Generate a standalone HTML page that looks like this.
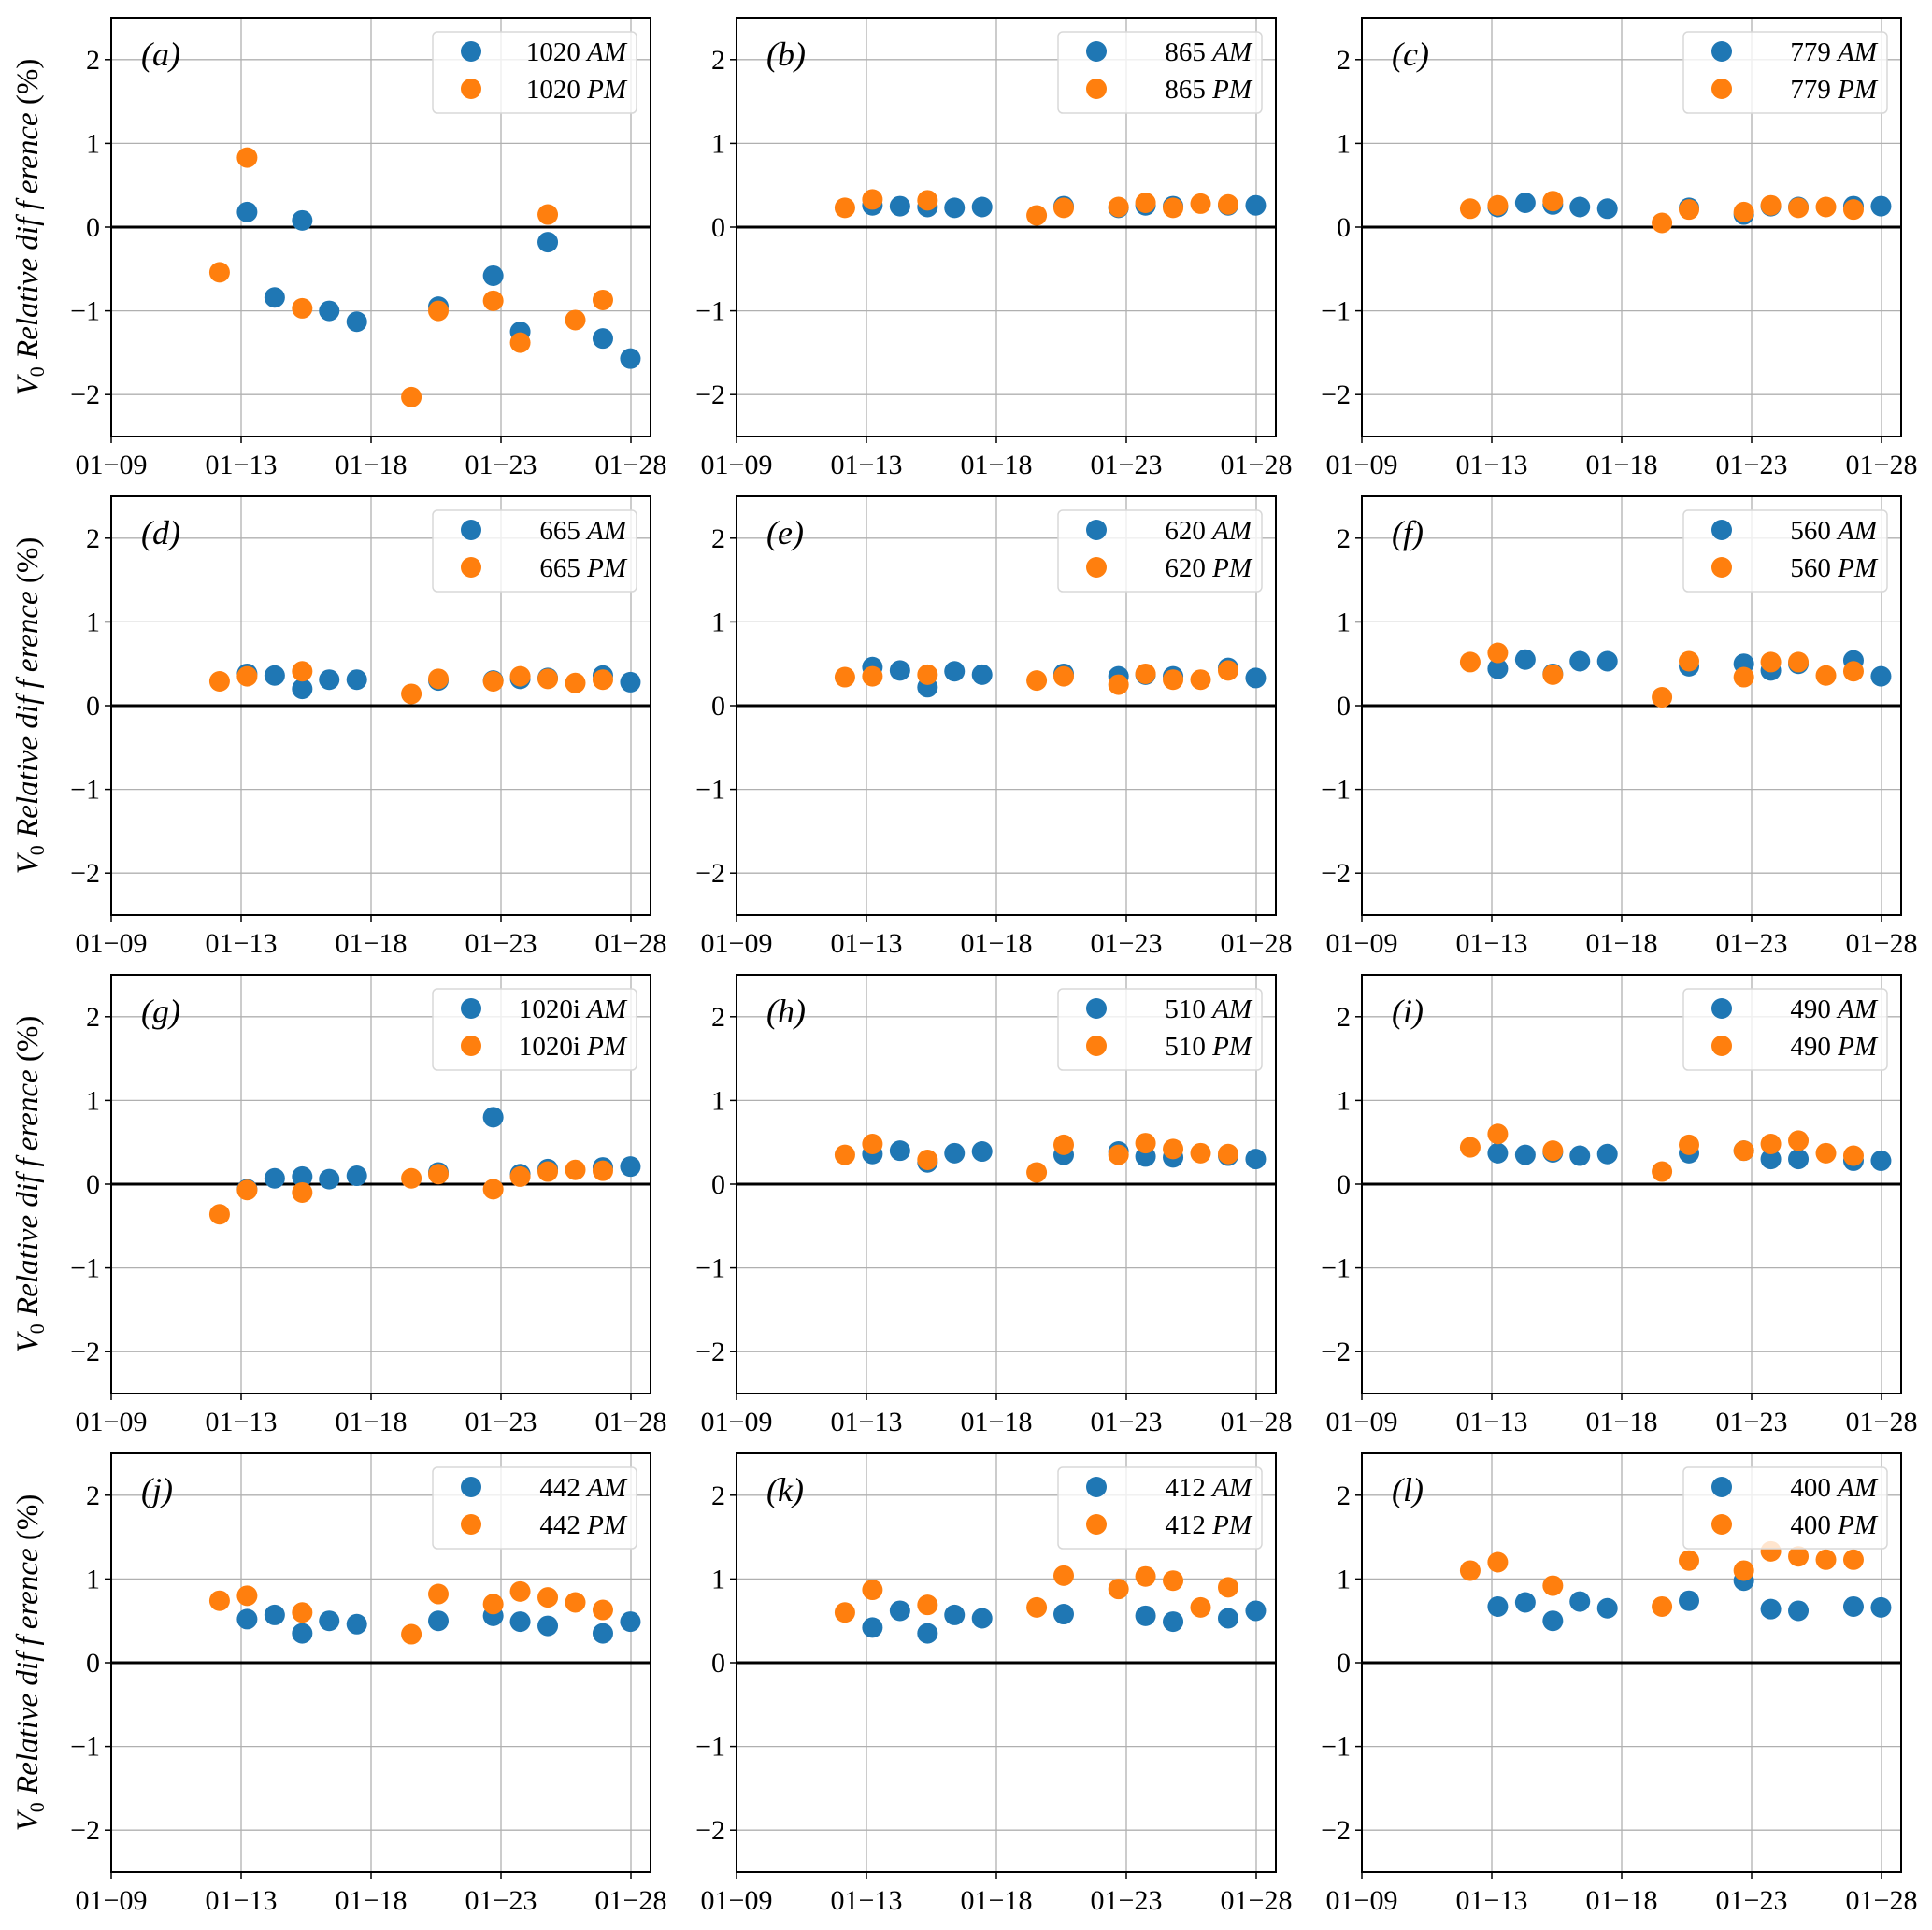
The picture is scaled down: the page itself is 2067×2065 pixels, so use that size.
<!DOCTYPE html>
<html><head><meta charset="utf-8"><style>
html,body{margin:0;padding:0;background:#fff;}
svg{display:block;font-family:"Liberation Serif",serif;}
</style></head><body>
<svg id="fig" width="2067" height="2065" viewBox="0 0 2067 2065" xmlns="http://www.w3.org/2000/svg"></svg>
<script>
const slotDays=[12.17,13.23,14.29,15.35,16.39,17.45,19.55,20.59,22.70,23.74,24.80,25.86,26.92,27.98];
const tickDays=[8,13,18,23,28];
const tickLabels=['01\u221209','01\u221213','01\u221218','01\u221223','01\u221228'];
const yTicks=[-2,-1,0,1,2];
const yTickLabels=['\u22122','\u22121','0','1','2'];
const panelLetters=['a','b','c','d','e','f','g','h','i','j','k','l'];
const bands=['1020','865','779','665','620','560','1020i','510','490','442','412','400'];
const n=null;
const amA=[n,.18,-.84,.08,-1.0,-1.13,n,-.95,-.58,-1.25,-.18,n,-1.33,-1.57];
const pmA=[-.54,.83,n,-.97,n,n,-2.03,-1.0,-.88,-1.38,.15,-1.11,-.87,n];
const amB=[n,.26,.25,.24,.23,.24,n,.25,.23,.26,.25,n,.26,.26];
const pmB=[.23,.33,n,.32,n,n,.14,.23,.24,.29,.23,.28,.27,n];
const amC=[n,.24,.29,.27,.24,.22,n,.23,.15,.25,.24,n,.25,.25];
const pmC=[.22,.26,n,.31,n,n,.05,.21,.18,.26,.23,.24,.21,n];
const amD=[n,.38,.36,.2,.31,.31,n,.3,.3,.32,.33,n,.36,.28];
const pmD=[.29,.35,n,.41,n,n,.14,.32,.29,.35,.32,.27,.31,n];
const amE=[n,.46,.42,.22,.41,.37,n,.38,.35,.37,.35,n,.45,.33];
const pmE=[.34,.35,n,.37,n,n,.3,.35,.25,.38,.31,.31,.42,n];
const amF=[n,.44,.55,.38,.53,.53,n,.47,.5,.42,.5,n,.54,.35];
const pmF=[.52,.63,n,.37,n,n,.1,.53,.34,.52,.52,.36,.41,n];
const amG=[n,-.06,.07,.09,.06,.1,n,.14,.8,.12,.18,n,.2,.21];
const pmG=[-.36,-.07,n,-.1,n,n,.07,.12,-.06,.09,.15,.17,.16,n];
const amH=[n,.36,.4,.26,.37,.39,n,.35,.39,.33,.32,n,.34,.3];
const pmH=[.35,.48,n,.29,n,n,.14,.47,.35,.49,.42,.37,.36,n];
const amI=[n,.37,.35,.38,.34,.36,n,.37,.4,.3,.3,n,.28,.28];
const pmI=[.44,.6,n,.4,n,n,.15,.47,.4,.48,.52,.37,.34,n];
const amJ=[n,.52,.57,.35,.5,.46,n,.5,.56,.49,.44,n,.35,.49];
const pmJ=[.74,.8,n,.6,n,n,.34,.82,.7,.85,.78,.72,.63,n];
const amK=[n,.42,.62,.35,.57,.53,n,.58,n,.56,.49,n,.53,.62];
const pmK=[.6,.87,n,.69,n,n,.66,1.04,.88,1.03,.98,.66,.9,n];
const amL=[n,.67,.72,.5,.73,.65,n,.74,.98,.64,.62,n,.67,.66];
const pmL=[1.1,1.2,n,.92,n,n,.67,1.22,1.1,1.33,1.27,1.23,1.23,n];
const amSeries=[amA,amB,amC,amD,amE,amF,amG,amH,amI,amJ,amK,amL];
const pmSeries=[pmA,pmB,pmC,pmD,pmE,pmF,pmG,pmH,pmI,pmJ,pmK,pmL];

const NS='http://www.w3.org/2000/svg';
const svg=document.getElementById('fig');
function mk(tag,attrs,parent){const e=document.createElementNS(NS,tag);for(const k in attrs)e.setAttribute(k,attrs[k]);(parent||svg).appendChild(e);return e;}
const colLeft=[119,788,1457],rowTop=[19,531,1043,1555],W=577,H=448;
const BLUE='#1f77b4',ORANGE='#ff7f0e';
for(let p=0;p<12;p++){
  const L=colLeft[p%3],T=rowTop[Math.floor(p/3)];
  const g=mk('g',{});
  
  
  const xs=d=>L+(1+(d-13)/5)*139;
  const ys=v=>T+H/2-v*(H/5);
  tickDays.forEach((d,i)=>{
    const l=mk('line',{x1:xs(d),x2:xs(d),y1:T,y2:T+H,stroke:'#b0b0b0','stroke-width':1.3},g);
    
    
    mk('line',{x1:xs(d),x2:xs(d),y1:T+H,y2:T+H+7,stroke:'#000','stroke-width':1.5},g);
    const t=mk('text',{x:xs(d),y:T+H+40,'text-anchor':'middle','font-size':30},g);
    t.textContent=tickLabels[i];
    
    
  });
  yTicks.forEach((v,i)=>{
    const l=mk('line',{x1:L,x2:L+W,y1:ys(v),y2:ys(v),stroke:'#b0b0b0','stroke-width':1.3},g);
    
    
    mk('line',{x1:L-7,x2:L,y1:ys(v),y2:ys(v),stroke:'#000','stroke-width':1.5},g);
    const t=mk('text',{x:L-12,y:ys(v)+10,'text-anchor':'end','font-size':30},g);
    t.textContent=yTickLabels[i];
    
    
  });
  const z=mk('line',{x1:L,x2:L+W,y1:ys(0),y2:ys(0),stroke:'#000','stroke-width':3},g);
  
  
  [[amSeries[p],BLUE,'am'],[pmSeries[p],ORANGE,'pm']].forEach(([arr,c,nm])=>{
    arr.forEach((v,i)=>{
      if(v===null)return;
      const ci=mk('circle',{cx:xs(slotDays[i]),cy:ys(v),r:11,fill:c},g);
      
      
    });
  });
  const fr=mk('rect',{x:L,y:T,width:W,height:H,fill:'none',stroke:'#000','stroke-width':2},g);
  
  
  const pl=mk('text',{x:L+32,y:T+51,'font-size':36,'font-style':'italic'},g);
  pl.textContent='('+panelLetters[p]+')';
  
  
  const lg=mk('g',{},g);
  
  
  const bx=L+W-233,by=T+15;
  mk('rect',{x:bx,y:by,width:218,height:87,rx:5,fill:'rgba(255,255,255,0.8)',stroke:'#d8d8d8','stroke-width':1.5},lg);
  [['AM',BLUE,21],['PM',ORANGE,61]].forEach(([lab,c,dy])=>{
    const e=mk('g',{},lg);
    
    
    mk('circle',{cx:bx+41,cy:by+dy,r:11,fill:c},e);
    const t=mk('text',{x:bx+207,y:by+dy+10,'text-anchor':'end','font-size':29},e);
    t.innerHTML=bands[p]+' <tspan font-style="italic">'+lab+'</tspan>';
  });
  if(p%3===0){
    const yl=mk('text',{x:0,y:0,'font-size':33,'text-anchor':'middle','font-style':'italic',transform:'translate(40,'+(T+H/2)+') rotate(-90)'},g);
    yl.innerHTML='V<tspan font-size="22" dy="7" font-style="normal">0</tspan><tspan dy="-7"> Relative dif f erence </tspan><tspan font-style="normal">(%)</tspan>';
    
    
  }
}
</script>
</body></html>
